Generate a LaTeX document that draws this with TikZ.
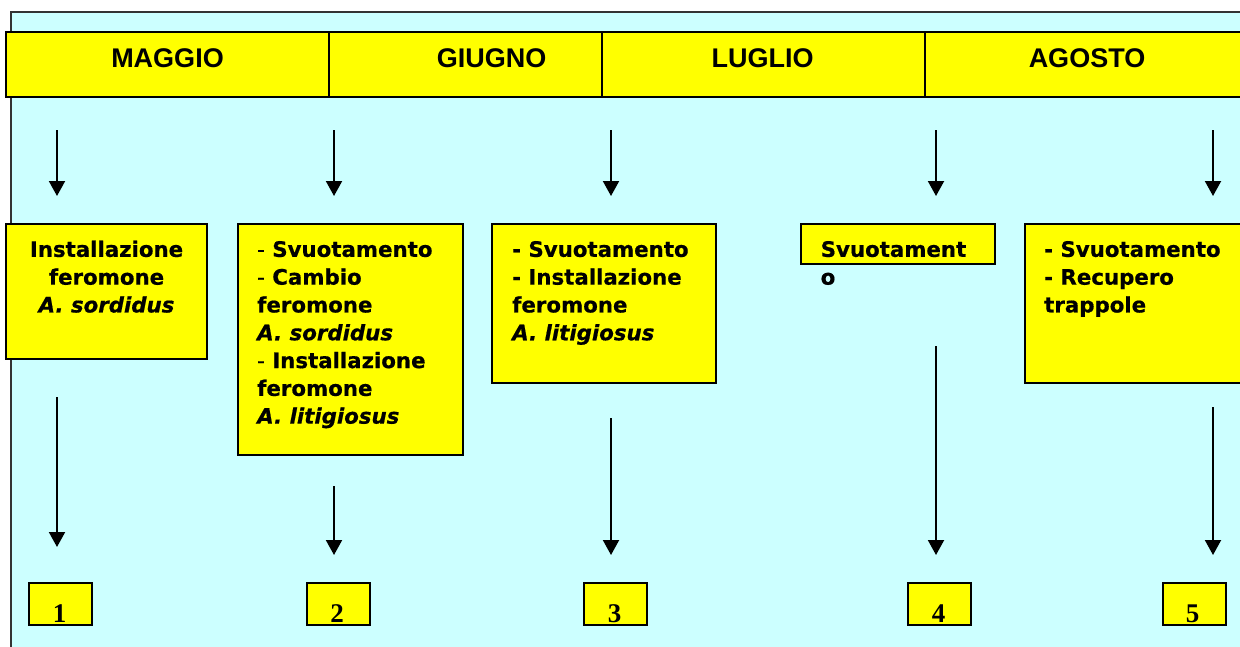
\documentclass[tikz,border=0pt]{standalone}
\usepackage{fontspec}
\setmainfont{DejaVu Sans}[FakeBold=0.6]
\newfontfamily\hdrfont{Liberation Sans}
\newfontfamily\numfont{Liberation Serif}
\usetikzlibrary{arrows.meta}
\definecolor{bgcyan}{HTML}{CCFFFF}
\definecolor{boxyel}{HTML}{FFFF00}
\definecolor{frame}{HTML}{333333}
\tikzset{
  ybox/.style={draw=black, line width=2pt, fill=boxyel, inner sep=0pt, outer sep=0pt, anchor=north west},
  htxt/.style={anchor=base, inner sep=0pt, font=\hdrfont\bfseries\fontsize{27}{32}\selectfont},
  txt/.style={anchor=north west, inner sep=0pt, align=left, font=\fontsize{21.3}{27.8}\selectfont\bfseries},
  ctxt/.style={anchor=north, inner sep=0pt, align=center, font=\fontsize{21.3}{27.8}\selectfont\bfseries},
  ntxt/.style={anchor=base, inner sep=0pt, font=\numfont\bfseries\fontsize{27}{32}\selectfont},
  arr/.style={draw=black, line width=2pt, -{Triangle[width=16pt,length=15pt]}}
}
\begin{document}
\begin{tikzpicture}[x=1pt,y=-1pt]
\useasboundingbox (0,0) rectangle (1240,646);
\fill[white] (0,0) rectangle (1240,646);
% background panel
\node[draw=frame, line width=2pt, fill=bgcyan, inner sep=0pt, outer sep=0pt, anchor=north west,
      minimum width=1260pt, minimum height=660pt] (bg) at (10.5,11.5) {};
% header boxes
\node[ybox, minimum width=323pt, minimum height=64.5pt] (h1) at (6,32) {};
\node[ybox, minimum width=324pt, minimum height=64.5pt] (h2) at (329,32) {};
\node[ybox, minimum width=324pt, minimum height=64.5pt] (h3) at (601.5,32) {};
\node[ybox, minimum width=330pt, minimum height=64.5pt] (h4) at (925,32) {};
\node[htxt] (m1) at (167.5,67) {MAGGIO};
\node[htxt] (m2) at (491.5,67) {GIUGNO};
\node[htxt] (m3) at (762.5,67) {LUGLIO};
\node[htxt] (m4) at (1087,67) {AGOSTO};
% activity boxes
\node[ybox, minimum width=201pt, minimum height=135pt] (b1) at (6,224) {};
\node[ybox, minimum width=225pt, minimum height=231pt] (b2) at (237.5,224) {};
\node[ybox, minimum width=224pt, minimum height=159pt] (b3) at (492,224) {};
\node[ybox, minimum width=193.5pt, minimum height=40pt] (b4) at (801,224) {};
\node[ybox, minimum width=240pt, minimum height=159pt] (b5) at (1024.5,224) {};
\node[ctxt] (t1) at (106.5,237.2) {\strut Installazione\\feromone\\\itshape A. sordidus};
\node[txt] (t2) at (257,237.2) {\strut{\mdseries -} Svuotamento\\{\mdseries -} Cambio\\feromone\\\itshape A. sordidus\\{\mdseries -} Installazione\\feromone\\\itshape A. litigiosus};
\node[txt] (t3) at (512,237.2) {\strut - Svuotamento\\- Installazione\\feromone\\\itshape A. litigiosus};
\node[txt] (t4) at (820.5,237.2) {\strut Svuotament\\o};
\node[txt] (t5) at (1044,237.2) {\strut - Svuotamento\\- Recupero\\trappole};
% number boxes
\node[ybox, minimum width=63pt, minimum height=42pt] (n1) at (29,583) {};
\node[ybox, minimum width=63pt, minimum height=42pt] (n2) at (306.5,583) {};
\node[ybox, minimum width=63pt, minimum height=42pt] (n3) at (584,583) {};
\node[ybox, minimum width=63pt, minimum height=42pt] (n4) at (908,583) {};
\node[ybox, minimum width=63pt, minimum height=42pt] (n5) at (1163,583) {};
\node[ntxt] (d1) at (59.5,622) {1};
\node[ntxt] (d2) at (337,622) {2};
\node[ntxt] (d3) at (614.5,622) {3};
\node[ntxt] (d4) at (938.5,622) {4};
\node[ntxt] (d5) at (1192.5,622) {5};
% top arrows
\coordinate (u1s) at (57,130);   \coordinate (u1e) at (57,196);
\coordinate (u2s) at (334,130);  \coordinate (u2e) at (334,196);
\coordinate (u3s) at (611,130);  \coordinate (u3e) at (611,196);
\coordinate (u4s) at (936,130);  \coordinate (u4e) at (936,196);
\coordinate (u5s) at (1213,130); \coordinate (u5e) at (1213,196);
\draw[arr] (u1s) -- (u1e);
\draw[arr] (u2s) -- (u2e);
\draw[arr] (u3s) -- (u3e);
\draw[arr] (u4s) -- (u4e);
\draw[arr] (u5s) -- (u5e);
% bottom arrows
\coordinate (l1s) at (57,397);   \coordinate (l1e) at (57,547);
\coordinate (l2s) at (334,486);  \coordinate (l2e) at (334,555);
\coordinate (l3s) at (611,418);  \coordinate (l3e) at (611,555);
\coordinate (l4s) at (936,346);  \coordinate (l4e) at (936,555);
\coordinate (l5s) at (1213,407); \coordinate (l5e) at (1213,555);
\draw[arr] (l1s) -- (l1e);
\draw[arr] (l2s) -- (l2e);
\draw[arr] (l3s) -- (l3e);
\draw[arr] (l4s) -- (l4e);
\draw[arr] (l5s) -- (l5e);
\end{tikzpicture}
\end{document}
